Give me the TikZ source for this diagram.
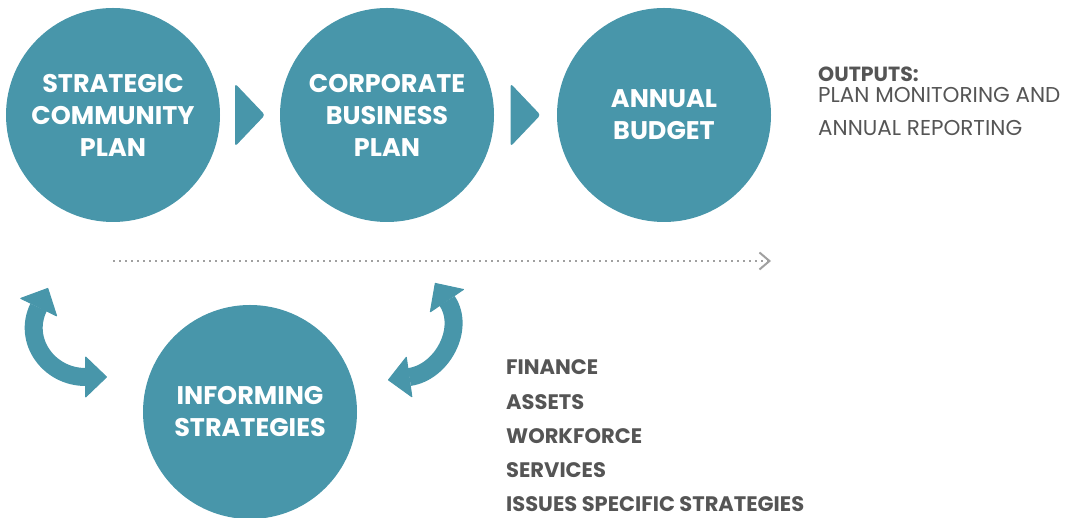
\documentclass[tikz,border=0pt]{standalone}
\usepackage{fontspec}
\setmainfont{Poppins}
\usetikzlibrary{arrows.meta,calc}
\definecolor{planteal}{HTML}{4896AA}
\definecolor{textgrey}{HTML}{555555}
\definecolor{dotgrey}{HTML}{A0A0A0}

\begin{document}
\begin{tikzpicture}[x=1pt,y=1pt,
  plan/.style={circle,fill=planteal,minimum size=214pt,inner sep=0pt,
    text=white,align=center,font=\bfseries\fontsize{25.5}{32}\selectfont},
  headtip/.tip={Triangle[width=42pt,length=22pt,line width=1pt,round]},
  swaparrow/.style={draw=planteal,line width=18pt,headtip-headtip},
  listtext/.style={anchor=base west,inner sep=0pt,text=textgrey,
    font=\bfseries\fontsize{21}{22}\selectfont},
  outtext/.style={listtext,font=\fontsize{21.5}{22}\selectfont}]
  \useasboundingbox (0,0) rectangle (1070,518);

  \node[plan] (scp) at (113,403) {STRATEGIC\\COMMUNITY\\PLAN};
  \node[plan] (cbp) at (387,403) {CORPORATE\\BUSINESS\\PLAN};
  \node[plan] (ab) at (664,403) {ANNUAL\\BUDGET};
  \node[plan] (is) at (250,106) {INFORMING\\STRATEGIES};

  \coordinate (g1) at ($(scp.east)!0.5!(cbp.west)$);
  \coordinate (g2) at ($(cbp.east)!0.5!(ab.west)$);
  \foreach \g in {g1,g2}
    \fill[planteal,rounded corners=3pt] (\g)+(-15,31.5) -- +(15,0) -- +(-15,-31.5) -- cycle;

  \draw[dotgrey,line width=2pt,dash pattern=on 2pt off 4pt,
    -{Straight Barb[length=10pt,width=17pt,line width=2pt]}] (113,257) -- (771,257);

  \coordinate (lt) at (48,230);
  \coordinate (lb) at (107,141);
  \coordinate (rt) at (435,235);
  \coordinate (rb) at (388,138);
  \draw[swaparrow] (lt) to[out=244,in=180,looseness=1.4] (lb);
  \draw[swaparrow] (rt) to[out=304,in=8,looseness=1.3] (rb);

  \node[listtext,font=\bfseries\fontsize{20.5}{22}\selectfont] (out) at (818,436) {OUTPUTS:};
  \node[outtext] (mon1) at (818,415) {PLAN MONITORING AND};
  \node[outtext] (mon2) at (818,382) {ANNUAL REPORTING};

  \foreach \t [count=\i] in {FINANCE,ASSETS,WORKFORCE,SERVICES,ISSUES SPECIFIC STRATEGIES}
    \node[listtext] (l\i) at (506,{143-34.25*(\i-1)}) {\t};
\end{tikzpicture}
\end{document}
